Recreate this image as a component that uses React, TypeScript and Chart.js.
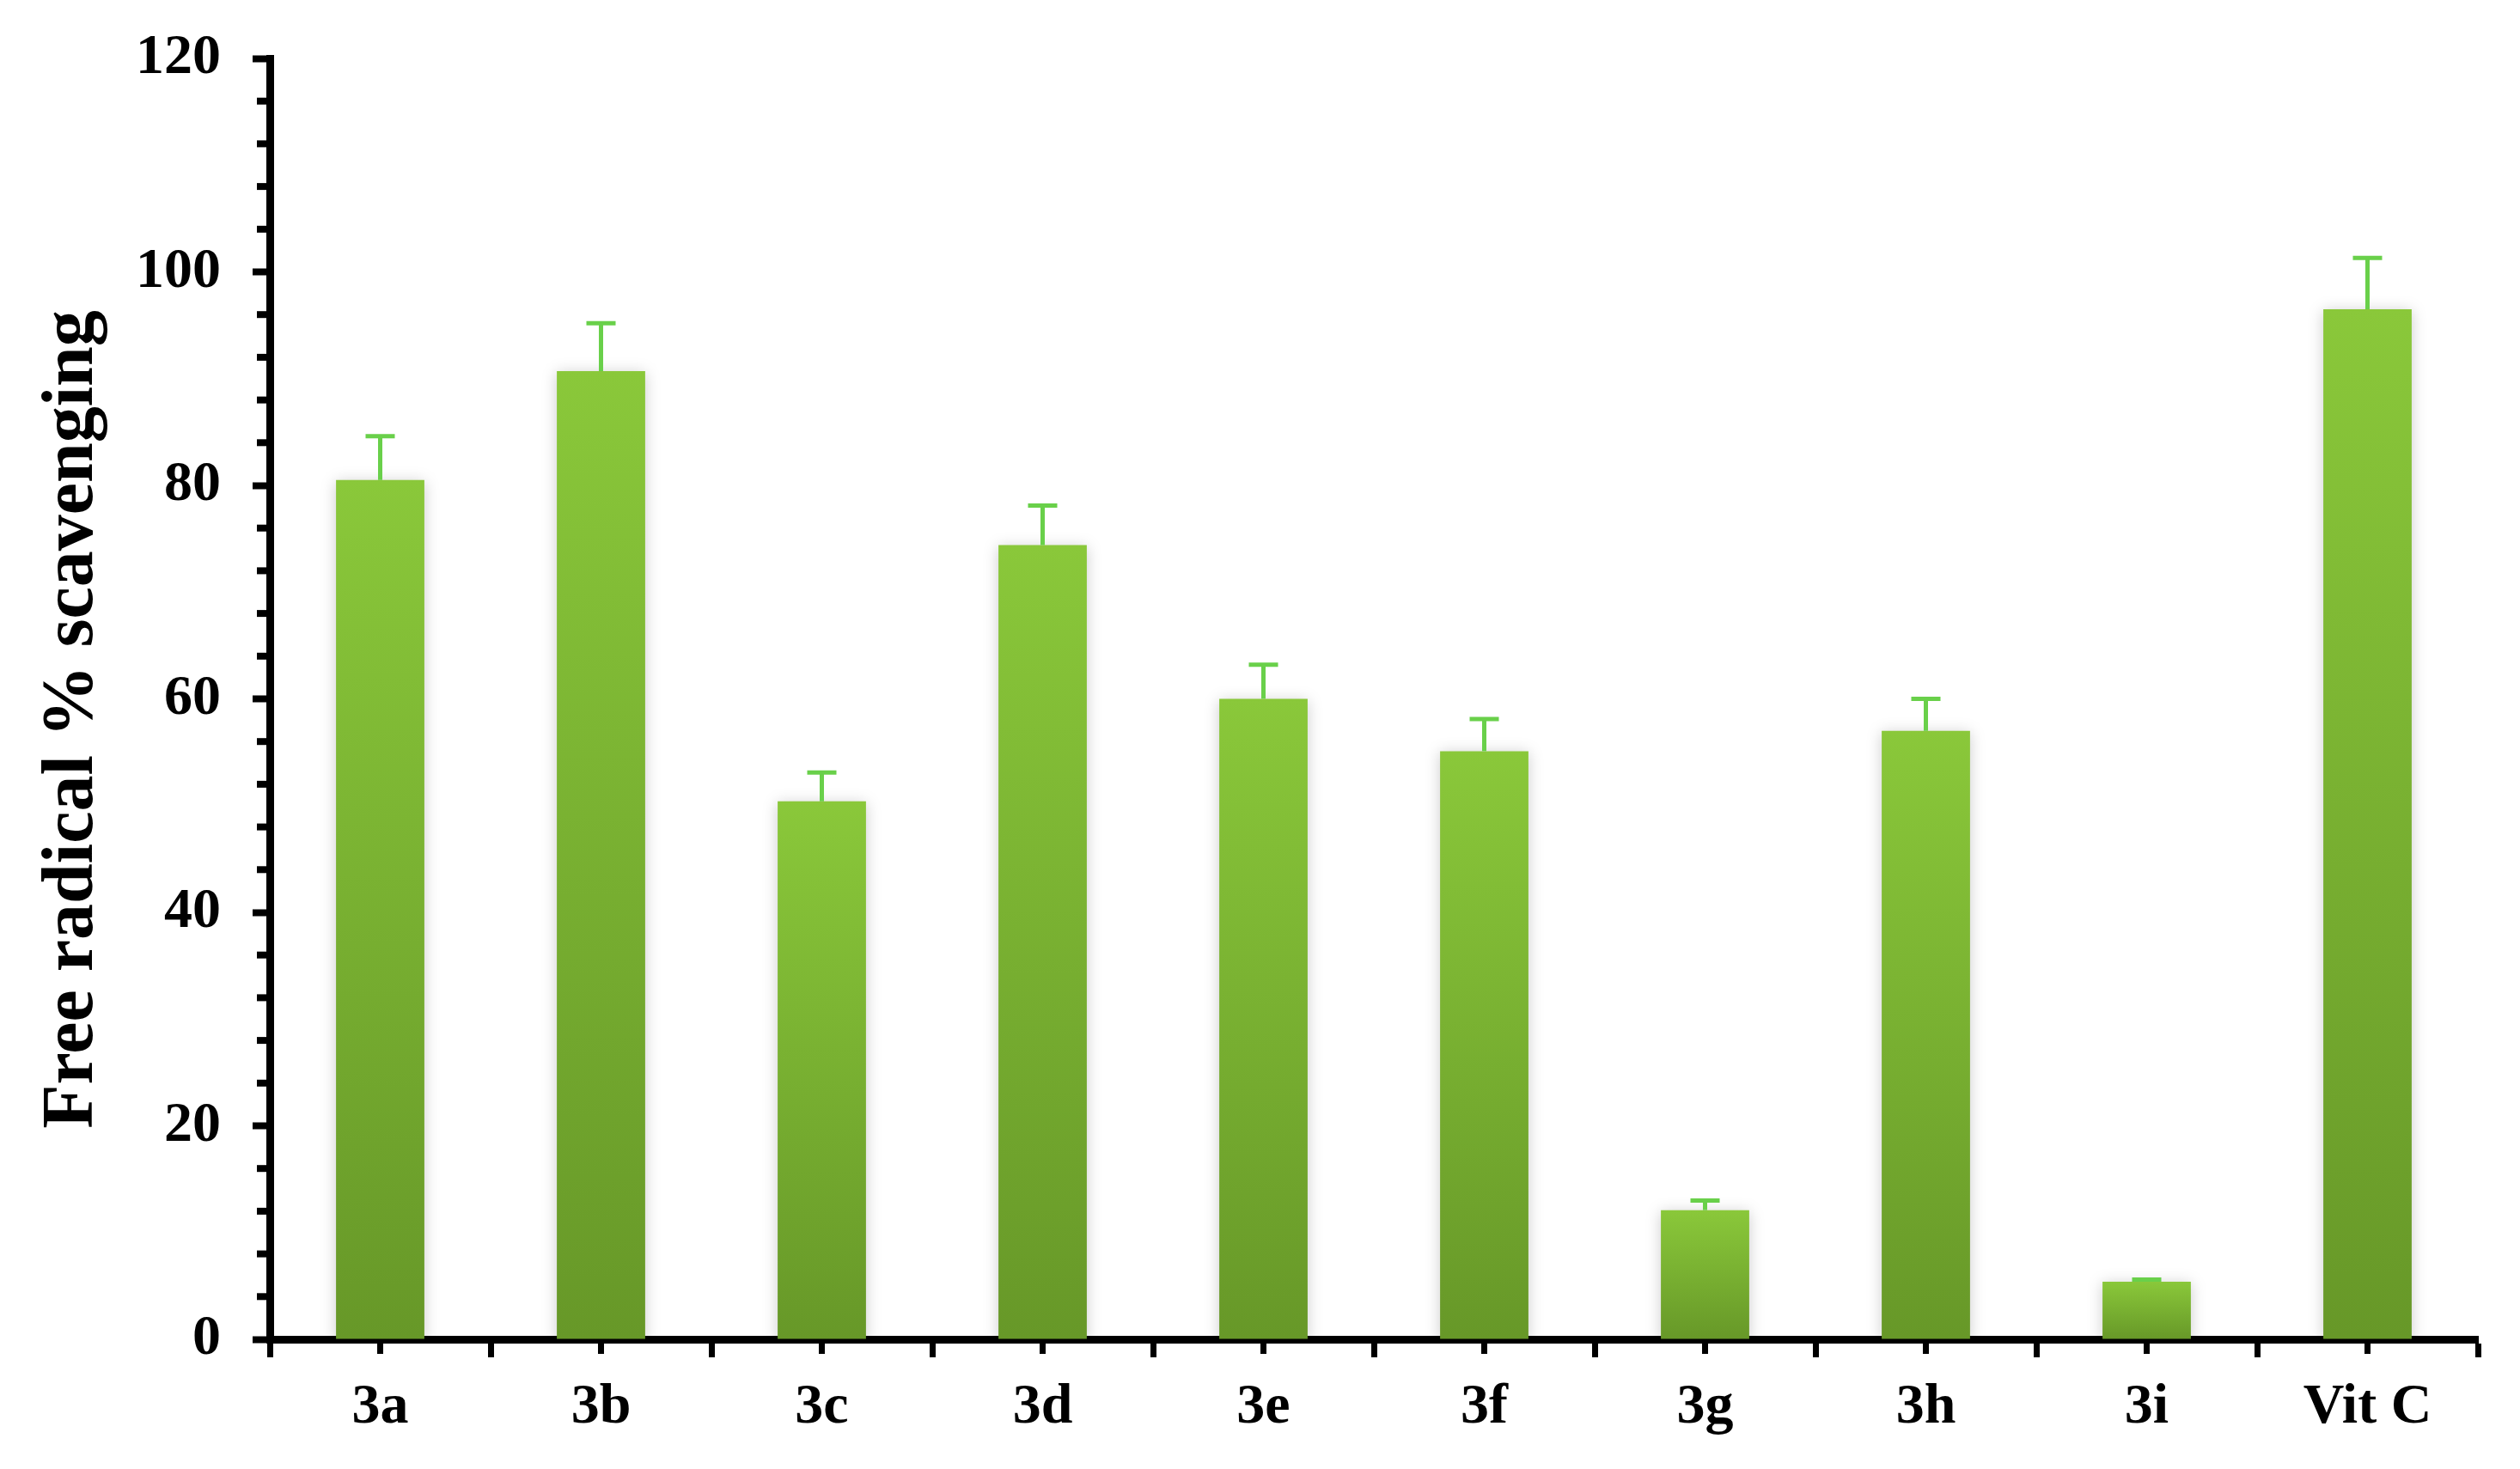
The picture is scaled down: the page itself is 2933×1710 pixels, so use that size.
import React, { useEffect, useRef } from 'react';
import { Chart, registerables } from 'chart.js';

Chart.register(...registerables);

// ---- data ----
const categories = ['3a', '3b', '3c', '3d', '3e', '3f', '3g', '3h', '3i', 'Vit C'];
const scavenging = [80.5, 90.7, 50.4, 74.4, 60.0, 55.1, 12.1, 57.0, 5.4, 96.5];
const errors = [4.1, 4.5, 2.7, 3.7, 3.2, 3.0, 0.9, 3.0, 0.2, 4.8];
const yMin = 0;
const yMax = 120;
const yMajorStep = 20;
const yMinorStep = 4;
const yTitle = 'Free radical % scavenging';

const FONT = "'Liberation Serif', 'Times New Roman', Times, serif";
const BAR_TOP = '#8AC83A';
const BAR_BOTTOM = '#679828';
const ERR_COLOR = '#69D04A';

const shadowPlugin = {
  id: 'barShadow',
  beforeDatasetsDraw(chart: any) {
    const c = chart.ctx;
    c.save();
    c.shadowColor = 'rgba(0,0,0,0.20)';
    c.shadowBlur = 16;
    c.shadowOffsetX = 0;
    c.shadowOffsetY = 2;
  },
  afterDatasetsDraw(chart: any) {
    chart.ctx.restore();
  },
};

const errorBarPlugin = {
  id: 'errorBars',
  afterDatasetsDraw(chart: any) {
    const ctx = chart.ctx;
    const meta = chart.getDatasetMeta(0);
    const ys = chart.scales.y;
    ctx.save();
    ctx.strokeStyle = ERR_COLOR;
    ctx.lineWidth = 5;
    meta.data.forEach((bar: any, i: number) => {
      const x = bar.x;
      const top = ys.getPixelForValue(scavenging[i]);
      const end = ys.getPixelForValue(scavenging[i] + errors[i]);
      ctx.beginPath();
      ctx.moveTo(x, top);
      ctx.lineTo(x, end);
      ctx.stroke();
      ctx.beginPath();
      ctx.moveTo(x - 17, end);
      ctx.lineTo(x + 17, end);
      ctx.stroke();
    });
    ctx.restore();
  },
};

const minorTicksPlugin = {
  id: 'minorTicks',
  afterDraw(chart: any) {
    const ctx = chart.ctx;
    const ys = chart.scales.y;
    const xs = chart.scales.x;
    const { left, bottom, top } = chart.chartArea;
    ctx.save();
    ctx.fillStyle = '#000';
    for (let v = yMin; v <= yMax; v += yMinorStep) {
      if (v % yMajorStep === 0) continue;
      const py = ys.getPixelForValue(v);
      ctx.fillRect(left - 15, py - 4, 15, 8);
    }
    categories.forEach((_, i) => {
      const px = xs.getPixelForValue(i);
      ctx.fillRect(px - 3.5, bottom, 7, 17);
    });
    // y-axis title, slightly below the axis centre as in the reference
    ctx.font = `bold 84px ${FONT}`;
    ctx.textAlign = 'center';
    ctx.textBaseline = 'middle';
    ctx.translate(85, (top + bottom) / 2 + 24);
    ctx.rotate(-Math.PI / 2);
    ctx.fillText(yTitle, 0, 0);
    ctx.restore();
  },
};

export default function App() {
  const canvasRef = useRef<HTMLCanvasElement | null>(null);

  useEffect(() => {
    document.body.style.margin = '0';
    document.body.style.overflow = 'hidden';
    const canvas = canvasRef.current;
    if (!canvas) return;
    const chart = new Chart(canvas, {
      type: 'bar',
      data: {
        labels: categories,
        datasets: [
          {
            data: scavenging,
            backgroundColor: (c: any) => {
              const ch = c.chart;
              const ys = ch.scales && ch.scales.y;
              if (!ys || c.dataIndex === undefined || !ch.chartArea) return '#7CB334';
              const top = ys.getPixelForValue(scavenging[c.dataIndex]);
              const base = ys.getPixelForValue(0);
              if (!isFinite(top) || !isFinite(base) || top === base) return '#7CB334';
              const g = ch.ctx.createLinearGradient(0, top, 0, base);
              g.addColorStop(0, BAR_TOP);
              g.addColorStop(1, BAR_BOTTOM);
              return g;
            },
            borderWidth: 0,
            barPercentage: 0.4,
            categoryPercentage: 1.0,
          },
        ],
      },
      options: {
        responsive: true,
        maintainAspectRatio: false,
        animation: false,
        layout: { padding: { left: 0, top: 68, right: 49, bottom: 0 } },
        plugins: {
          legend: { display: false },
          tooltip: { enabled: false },
        },
        scales: {
          x: {
            z: 1,
            offset: true,
            afterFit: (s: any) => {
              s.height = 151;
            },
            grid: {
              display: true,
              offset: true,
              drawOnChartArea: false,
              drawTicks: true,
              tickLength: 21,
              tickWidth: 7,
              tickColor: '#000',
              color: '#000',
            },
            border: { display: true, color: '#000', width: 9 },
            ticks: {
              color: '#000',
              padding: 19,
              font: { family: FONT, size: 66, weight: 'bold' },
            },
          },
          y: {
            z: 1,
            min: yMin,
            max: yMax,
            afterFit: (s: any) => {
              s.width = 314;
            },
            grid: {
              display: true,
              drawOnChartArea: false,
              drawTicks: true,
              tickLength: 20,
              tickWidth: 8,
              tickColor: '#000',
              color: '#000',
            },
            border: { display: true, color: '#000', width: 9 },
            ticks: {
              stepSize: yMajorStep,
              color: '#000',
              padding: 37,
              font: { family: FONT, size: 66, weight: 'bold', lineHeight: 0.7 },
            },
            title: { display: false },
          },
        },
      },
      plugins: [shadowPlugin, errorBarPlugin, minorTicksPlugin],
    } as any);
    return () => {
      chart.destroy();
    };
  }, []);

  return (
    <div style={{ position: 'relative', width: '2933px', height: '1710px' }}>
      <canvas ref={canvasRef} style={{ display: 'block' }} />
    </div>
  );
}
